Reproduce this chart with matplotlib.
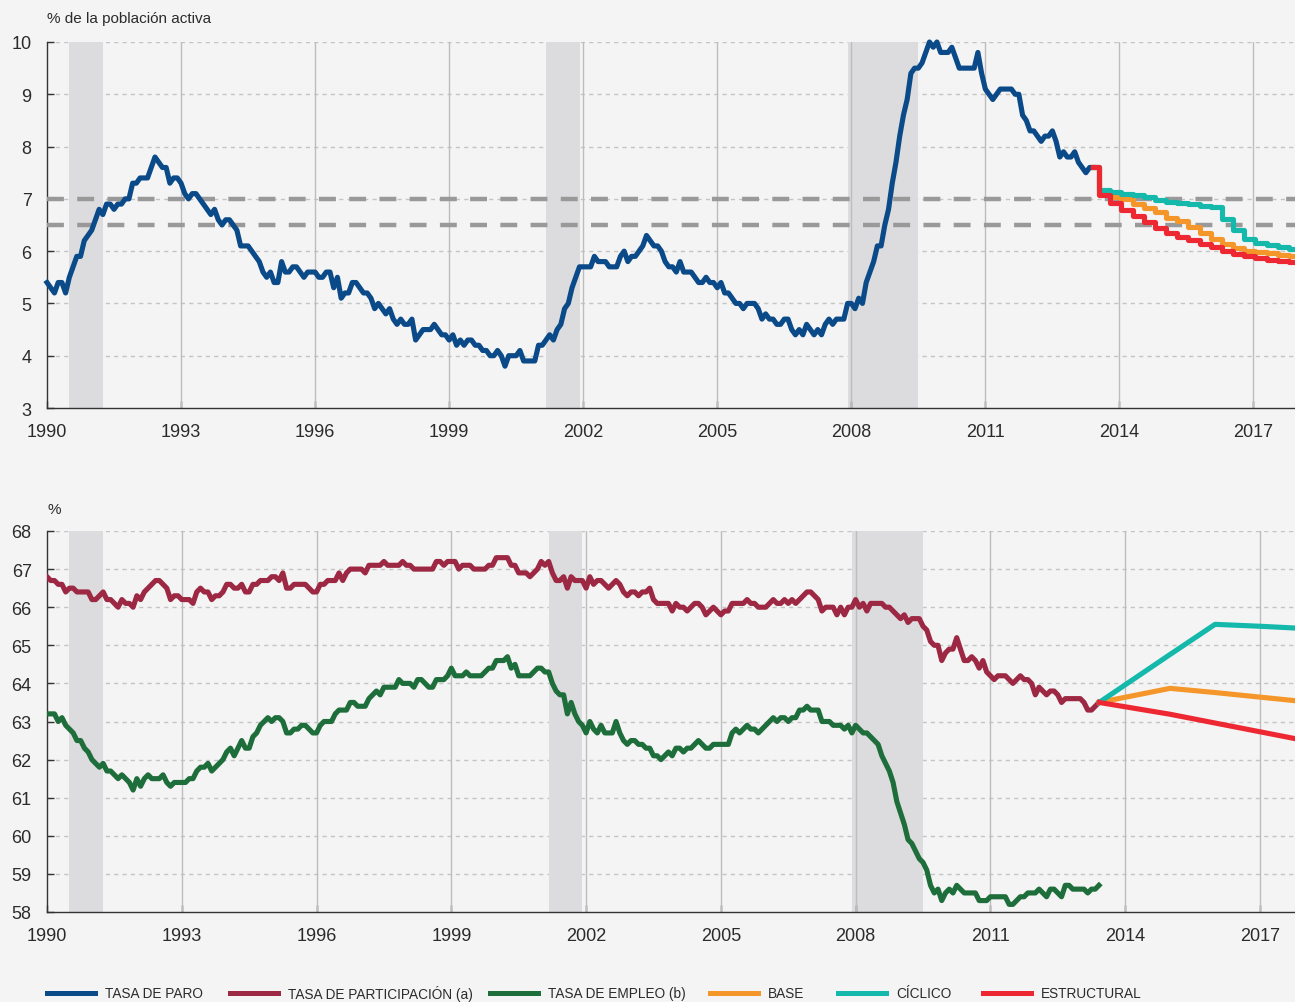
import numpy as np
import matplotlib
matplotlib.use("Agg")
import matplotlib.pyplot as plt
from matplotlib import font_manager

# ---- data (monthly, Jan 1990 - Jun 2013) ----
paro = [
    5.4, 5.3, 5.2, 5.4, 5.4, 5.2, 5.5, 5.7, 5.9, 5.9, 6.2, 6.3,   # 1990
    6.4, 6.6, 6.8, 6.7, 6.9, 6.9, 6.8, 6.9, 6.9, 7.0, 7.0, 7.3,   # 1991
    7.3, 7.4, 7.4, 7.4, 7.6, 7.8, 7.7, 7.6, 7.6, 7.3, 7.4, 7.4,   # 1992
    7.3, 7.1, 7.0, 7.1, 7.1, 7.0, 6.9, 6.8, 6.7, 6.8, 6.6, 6.5,   # 1993
    6.6, 6.6, 6.5, 6.4, 6.1, 6.1, 6.1, 6.0, 5.9, 5.8, 5.6, 5.5,   # 1994
    5.6, 5.4, 5.4, 5.8, 5.6, 5.6, 5.7, 5.7, 5.6, 5.5, 5.6, 5.6,   # 1995
    5.6, 5.5, 5.5, 5.6, 5.6, 5.3, 5.5, 5.1, 5.2, 5.2, 5.4, 5.4,   # 1996
    5.3, 5.2, 5.2, 5.1, 4.9, 5.0, 4.9, 4.8, 4.9, 4.7, 4.6, 4.7,   # 1997
    4.6, 4.6, 4.7, 4.3, 4.4, 4.5, 4.5, 4.5, 4.6, 4.5, 4.4, 4.4,   # 1998
    4.3, 4.4, 4.2, 4.3, 4.2, 4.3, 4.3, 4.2, 4.2, 4.1, 4.1, 4.0,   # 1999
    4.0, 4.1, 4.0, 3.8, 4.0, 4.0, 4.0, 4.1, 3.9, 3.9, 3.9, 3.9,   # 2000
    4.2, 4.2, 4.3, 4.4, 4.3, 4.5, 4.6, 4.9, 5.0, 5.3, 5.5, 5.7,   # 2001
    5.7, 5.7, 5.7, 5.9, 5.8, 5.8, 5.8, 5.7, 5.7, 5.7, 5.9, 6.0,   # 2002
    5.8, 5.9, 5.9, 6.0, 6.1, 6.3, 6.2, 6.1, 6.1, 6.0, 5.8, 5.7,   # 2003
    5.7, 5.6, 5.8, 5.6, 5.6, 5.6, 5.5, 5.4, 5.4, 5.5, 5.4, 5.4,   # 2004
    5.3, 5.4, 5.2, 5.2, 5.1, 5.0, 5.0, 4.9, 5.0, 5.0, 5.0, 4.9,   # 2005
    4.7, 4.8, 4.7, 4.7, 4.6, 4.6, 4.7, 4.7, 4.5, 4.4, 4.5, 4.4,   # 2006
    4.6, 4.5, 4.4, 4.5, 4.4, 4.6, 4.7, 4.6, 4.7, 4.7, 4.7, 5.0,   # 2007
    5.0, 4.9, 5.1, 5.0, 5.4, 5.6, 5.8, 6.1, 6.1, 6.5, 6.8, 7.3,   # 2008
    7.7, 8.2, 8.6, 8.9, 9.4, 9.5, 9.5, 9.6, 9.8, 10.0, 9.9, 10.0, # 2009
    9.8, 9.8, 9.8, 9.9, 9.7, 9.5, 9.5, 9.5, 9.5, 9.5, 9.8, 9.4,   # 2010
    9.1, 9.0, 8.9, 9.0, 9.1, 9.1, 9.1, 9.1, 9.0, 9.0, 8.6, 8.5,   # 2011
    8.3, 8.3, 8.2, 8.1, 8.2, 8.2, 8.3, 8.1, 7.8, 7.9, 7.8, 7.8,   # 2012
    7.9, 7.7, 7.6, 7.5, 7.6, 7.6,                                 # 2013
]

participacion = [
    66.8, 66.7, 66.7, 66.6, 66.6, 66.4, 66.5, 66.5, 66.4, 66.4, 66.4, 66.4,
    66.2, 66.2, 66.3, 66.4, 66.2, 66.2, 66.1, 66.0, 66.2, 66.1, 66.1, 66.0,
    66.3, 66.2, 66.4, 66.5, 66.6, 66.7, 66.7, 66.6, 66.5, 66.2, 66.3, 66.3,
    66.2, 66.2, 66.2, 66.1, 66.4, 66.5, 66.4, 66.4, 66.2, 66.3, 66.3, 66.4,
    66.6, 66.6, 66.5, 66.5, 66.6, 66.4, 66.4, 66.6, 66.6, 66.7, 66.7, 66.7,
    66.8, 66.8, 66.7, 66.9, 66.5, 66.5, 66.6, 66.6, 66.6, 66.6, 66.5, 66.4,
    66.4, 66.6, 66.6, 66.7, 66.7, 66.7, 66.9, 66.7, 66.9, 67.0, 67.0, 67.0,
    67.0, 66.9, 67.1, 67.1, 67.1, 67.1, 67.2, 67.1, 67.1, 67.1, 67.1, 67.2,
    67.1, 67.1, 67.0, 67.0, 67.0, 67.0, 67.0, 67.0, 67.2, 67.2, 67.1, 67.2,
    67.2, 67.2, 67.0, 67.1, 67.1, 67.1, 67.0, 67.0, 67.0, 67.0, 67.1, 67.1,
    67.3, 67.3, 67.3, 67.3, 67.1, 67.1, 66.9, 66.9, 66.9, 66.8, 66.9, 67.0,
    67.2, 67.1, 67.2, 66.9, 66.7, 66.7, 66.8, 66.5, 66.8, 66.7, 66.7, 66.7,
    66.5, 66.8, 66.6, 66.7, 66.7, 66.6, 66.5, 66.6, 66.7, 66.6, 66.4, 66.3,
    66.4, 66.4, 66.3, 66.4, 66.4, 66.5, 66.2, 66.1, 66.1, 66.1, 66.1, 65.9,
    66.1, 66.0, 66.0, 65.9, 66.0, 66.1, 66.1, 66.0, 65.8, 65.9, 66.0, 65.9,
    65.8, 65.9, 65.9, 66.1, 66.1, 66.1, 66.1, 66.2, 66.1, 66.1, 66.0, 66.0,
    66.0, 66.1, 66.2, 66.1, 66.1, 66.2, 66.1, 66.2, 66.1, 66.2, 66.3, 66.4,
    66.4, 66.3, 66.2, 65.9, 66.0, 66.0, 66.0, 65.8, 66.0, 65.8, 66.0, 66.0,
    66.2, 66.0, 66.1, 65.9, 66.1, 66.1, 66.1, 66.1, 66.0, 66.0, 65.9, 65.8,
    65.7, 65.8, 65.6, 65.7, 65.7, 65.7, 65.5, 65.4, 65.1, 65.0, 65.0, 64.6,
    64.8, 64.9, 64.9, 65.2, 64.9, 64.6, 64.6, 64.7, 64.6, 64.4, 64.6, 64.3,
    64.2, 64.1, 64.2, 64.2, 64.2, 64.1, 64.0, 64.1, 64.2, 64.1, 64.1, 64.0,
    63.7, 63.9, 63.8, 63.7, 63.8, 63.8, 63.7, 63.5, 63.6, 63.6, 63.6, 63.6,
    63.6, 63.5, 63.3, 63.3, 63.4, 63.5,
]

empleo = [
    63.2, 63.2, 63.2, 63.0, 63.1, 62.9, 62.8, 62.7, 62.5, 62.5, 62.3, 62.2,
    62.0, 61.9, 61.8, 61.9, 61.7, 61.7, 61.6, 61.5, 61.6, 61.5, 61.4, 61.2,
    61.5, 61.3, 61.5, 61.6, 61.5, 61.5, 61.5, 61.6, 61.4, 61.3, 61.4, 61.4,
    61.4, 61.4, 61.5, 61.5, 61.7, 61.8, 61.8, 61.9, 61.7, 61.8, 61.9, 62.0,
    62.2, 62.3, 62.1, 62.3, 62.5, 62.3, 62.3, 62.6, 62.7, 62.9, 63.0, 63.1,
    63.0, 63.1, 63.1, 63.0, 62.7, 62.7, 62.8, 62.8, 62.9, 62.9, 62.8, 62.7,
    62.7, 62.9, 63.0, 63.0, 63.0, 63.2, 63.3, 63.3, 63.3, 63.5, 63.5, 63.4,
    63.4, 63.4, 63.6, 63.7, 63.8, 63.7, 63.9, 63.9, 63.9, 63.9, 64.1, 64.0,
    64.0, 64.0, 63.9, 64.1, 64.1, 64.0, 63.9, 63.9, 64.1, 64.1, 64.1, 64.2,
    64.4, 64.2, 64.2, 64.2, 64.3, 64.2, 64.2, 64.2, 64.2, 64.3, 64.4, 64.4,
    64.6, 64.6, 64.6, 64.7, 64.4, 64.5, 64.2, 64.2, 64.2, 64.2, 64.3, 64.4,
    64.4, 64.3, 64.3, 64.0, 63.8, 63.7, 63.7, 63.2, 63.5, 63.2, 63.0, 62.9,
    62.7, 63.0, 62.8, 62.7, 62.9, 62.7, 62.7, 62.7, 63.0, 62.7, 62.5, 62.4,
    62.5, 62.5, 62.4, 62.4, 62.3, 62.3, 62.1, 62.1, 62.0, 62.1, 62.2, 62.1,
    62.3, 62.3, 62.2, 62.3, 62.3, 62.4, 62.5, 62.4, 62.3, 62.3, 62.4, 62.4,
    62.4, 62.4, 62.4, 62.7, 62.8, 62.7, 62.8, 62.9, 62.8, 62.8, 62.7, 62.8,
    62.9, 63.0, 63.1, 63.0, 63.1, 63.1, 63.0, 63.1, 63.1, 63.3, 63.3, 63.4,
    63.3, 63.3, 63.3, 63.0, 63.0, 63.0, 62.9, 62.9, 62.9, 62.8, 62.9, 62.7,
    62.9, 62.8, 62.7, 62.7, 62.6, 62.5, 62.4, 62.1, 61.9, 61.7, 61.4, 60.9,
    60.6, 60.3, 59.9, 59.8, 59.6, 59.4, 59.3, 59.1, 58.7, 58.5, 58.6, 58.3,
    58.5, 58.6, 58.5, 58.7, 58.6, 58.5, 58.5, 58.5, 58.5, 58.3, 58.3, 58.3,
    58.4, 58.4, 58.4, 58.4, 58.4, 58.2, 58.2, 58.3, 58.4, 58.4, 58.5, 58.5,
    58.5, 58.6, 58.5, 58.4, 58.6, 58.6, 58.5, 58.4, 58.7, 58.7, 58.6, 58.6,
    58.6, 58.6, 58.5, 58.6, 58.6, 58.7,
]

# unemployment projections (quarterly)
proj_paro_t = [2013.42, 2013.67, 2013.92, 2014.17, 2014.42, 2014.67, 2014.92, 2015.17,
               2015.42, 2015.67, 2015.92, 2016.17, 2016.42, 2016.67, 2016.92, 2017.17,
               2017.42, 2017.67, 2017.92]
paro_base = [7.60, 7.10, 7.04, 6.99, 6.90, 6.82, 6.74, 6.64, 6.57, 6.46, 6.35, 6.23,
             6.14, 6.06, 6.01, 5.98, 5.96, 5.93, 5.90]
paro_ciclico = [7.60, 7.17, 7.13, 7.10, 7.07, 7.04, 6.98, 6.94, 6.92, 6.90, 6.87, 6.84,
                6.62, 6.40, 6.24, 6.16, 6.12, 6.07, 6.04]
paro_estructural = [7.60, 7.07, 6.92, 6.79, 6.68, 6.56, 6.44, 6.34, 6.28, 6.21, 6.14, 6.08,
                    6.01, 5.95, 5.90, 5.86, 5.83, 5.81, 5.79]

# participation projections (annual)
proj_part_t = [2013.42, 2015.0, 2016.0, 2017.0, 2018.0]
part_base = [63.5, 63.87, 63.76, 63.64, 63.52]
part_ciclico = [63.5, 64.76, 65.55, 65.50, 65.44]
part_estructural = [63.5, 63.19, 62.96, 62.73, 62.50]

recesiones = [(1990.5, 1991.25), (2001.17, 2001.92), (2007.92, 2009.5)]
umbrales = [7.0, 6.5]
anios = list(range(1990, 2018, 3))

C_PARO = "#0b4a88"
C_PART = "#9d2843"
C_EMPL = "#1e6e3b"
C_BASE = "#f5962a"
C_CICL = "#14b9ab"
C_ESTR = "#ee2833"
BG = "#f4f4f4"
TXT = "#2b2b2b"
LW = 3.7

names = {f.name for f in font_manager.fontManager.ttflist}
FONT = "Liberation Sans" if "Liberation Sans" in names else "DejaVu Sans"
NARROW = "Liberation Sans Narrow" if "Liberation Sans Narrow" in names else FONT
plt.rcParams["font.family"] = FONT

months = 1990 + np.arange(len(paro)) / 12.0

W, H = 1295, 1003
fig = plt.figure(figsize=(W / 100, H / 100), dpi=100, facecolor=BG)
ax1 = fig.add_axes([47 / W, 1 - 409 / H, 1 - 47 / W, 366 / H])
ax2 = fig.add_axes([47 / W, 1 - 913 / H, 1 - 47 / W, 381 / H])


def style(ax, ylim, yticks, xmax):
    ax.set_facecolor(BG)
    ax.set_xlim(1990, xmax)
    ax.set_ylim(*ylim)
    ax.set_yticks(yticks)
    ax.set_xticks(anios)
    for y in yticks[1:]:
        ax.axhline(y, color="#c4c4c4", lw=1.0, ls=(0, (3, 3)), zorder=0)
    for x in anios[1:]:
        ax.axvline(x, color="#bdbdbd", lw=1.0, zorder=2)
    for a, b in recesiones:
        ax.axvspan(a, b, color="#dcdcde", lw=0, zorder=1)
    for s in ["top", "right"]:
        ax.spines[s].set_visible(False)
    for s in ["left", "bottom"]:
        ax.spines[s].set_color("#333333")
        ax.spines[s].set_linewidth(1.0)
    ax.tick_params(axis="both", direction="in", length=5, width=1, color="#333333",
                   labelsize=13, labelcolor=TXT)
    ax.tick_params(axis="y", pad=11)
    ax.tick_params(axis="x", pad=11)


style(ax1, (3, 10), list(range(3, 11)), 2017.93)
style(ax2, (58, 68), list(range(58, 69)), 2017.78)

# top panel
for u in umbrales:
    ax1.axhline(u, color="#999999", lw=3.2, ls=(0, (3.8, 3.0)), zorder=3)
ax1.plot(months, paro, color=C_PARO, lw=LW, zorder=4, clip_on=False)
ax1.plot(proj_paro_t, paro_base, color=C_BASE, lw=LW, zorder=4, drawstyle="steps-mid")
ax1.plot(proj_paro_t, paro_ciclico, color=C_CICL, lw=LW, zorder=4, drawstyle="steps-mid")
ax1.plot(proj_paro_t, paro_estructural, color=C_ESTR, lw=LW, zorder=5, drawstyle="steps-mid")
fig.text(47 / W, 1 - 19 / H, "% de la población activa", fontsize=11,
         color=TXT, va="center", ha="left")

# bottom panel
ax2.plot(months, participacion, color=C_PART, lw=LW, zorder=4)
ax2.plot(months, empleo, color=C_EMPL, lw=LW, zorder=4)
ax2.plot(proj_part_t, part_base, color=C_BASE, lw=LW, zorder=4)
ax2.plot(proj_part_t, part_ciclico, color=C_CICL, lw=LW, zorder=4)
ax2.plot(proj_part_t, part_estructural, color=C_ESTR, lw=LW, zorder=5)
fig.text(47 / W, 1 - 510 / H, "%", fontsize=11, color=TXT, va="center", ha="left")

# legend, laid out by hand like the original
series = [("TASA DE PARO", C_PARO), ("TASA DE PARTICIPACIÓN (a)", C_PART),
          ("TASA DE EMPLEO (b)", C_EMPL), ("BASE", C_BASE), ("CÍCLICO", C_CICL),
          ("ESTRUCTURAL", C_ESTR)]
leg_x = [47, 230, 490, 710, 838, 983]
leg_y = 1 - 994 / H
for (label, color), x0 in zip(series, leg_x):
    fig.add_artist(plt.Line2D([x0 / W, (x0 + 48) / W], [leg_y, leg_y],
                              color=color, lw=3.6, transform=fig.transFigure))
    fig.text((x0 + 58) / W, leg_y, label, fontsize=9.8, family=NARROW,
             color=TXT, va="center", ha="left")

fig.savefig("out.png", dpi=100, facecolor=BG)
